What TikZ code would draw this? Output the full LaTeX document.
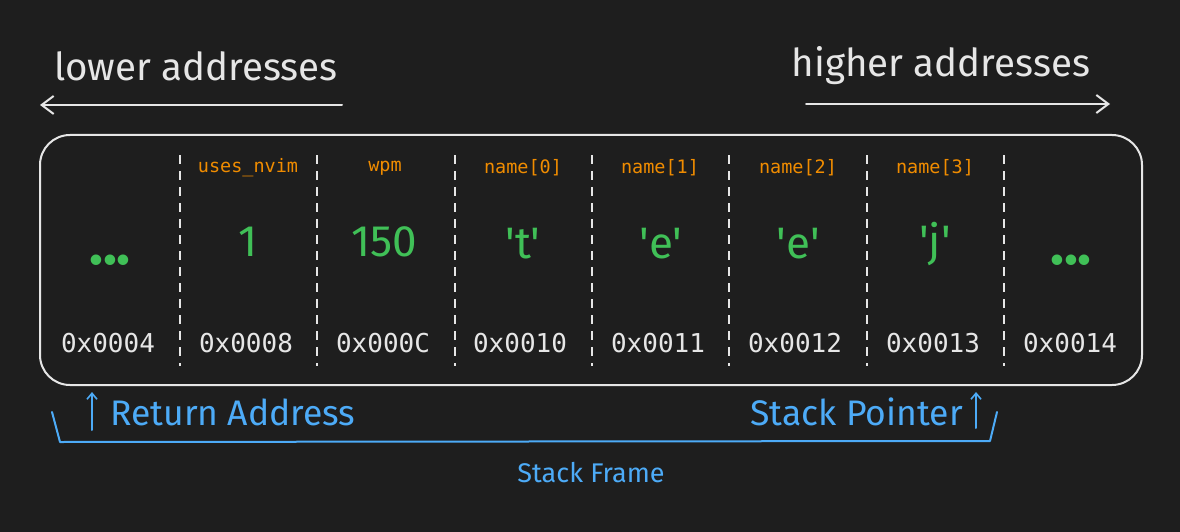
\documentclass[tikz,border=0pt]{standalone}
\usepackage{fontspec}
\setmainfont{Fira Sans}
\newfontfamily\monof{DejaVu Sans Mono}
\usetikzlibrary{arrows.meta}
\definecolor{bg}{HTML}{1E1E1E}
\definecolor{fg}{HTML}{E6E6E6}
\definecolor{orng}{HTML}{F08C00}
\definecolor{grn}{HTML}{40C057}
\definecolor{blu}{HTML}{4DABF7}
\tikzset{
  hand/.style={font=\fontsize{38.5}{40}\selectfont, text=fg, inner sep=0pt},
  varlbl/.style={font=\monof\fontsize{18.5}{20}\selectfont, text=orng, inner sep=0pt},
  val/.style={font=\fontsize{44}{46}\selectfont, text=grn, inner sep=0pt},
  dots/.style={font=\bfseries\fontsize{58}{60}\selectfont, text=grn, inner sep=0pt},
  addr/.style={font=\monof\fontsize{26}{28}\selectfont, text=fg, inner sep=0pt},
  bluetxt/.style={font=\fontsize{35.5}{37}\selectfont, text=blu, inner sep=0pt},
  sep/.style={draw=fg, line width=2pt, dash pattern=on 9pt off 7pt},
  wline/.style={draw=fg, line width=2pt, line cap=round},
  bline/.style={draw=blu, line width=2pt, line cap=round, line join=round}
}
\begin{document}
\begin{tikzpicture}[x=1pt,y=-1pt]
\fill[bg] (0,0) rectangle (1180,532);
\useasboundingbox (0,0) rectangle (1180,532);
% header
\node[hand] (low) at (196,66) {lower addresses};
\node[hand] (high) at (941,66) {higher addresses};
\coordinate (la1) at (342,105);
\coordinate (la2) at (40,105);
\coordinate (ha1) at (806,104);
\coordinate (ha2) at (1110,104);
\draw[wline, -{Straight Barb[length=12pt,width=18pt,line width=2pt]}] (la1) -- (la2);
\draw[wline, -{Straight Barb[length=12pt,width=18pt,line width=2pt]}] (ha1) -- (ha2);
% frame box
\draw[fg, line width=2pt, rounded corners=30pt] (40,135) rectangle (1142,385);
% separators
\foreach \x/\n in {180/s1,317/s2,455/s3,592/s4,729/s5,867/s6,1004/s7}{
  \coordinate (\n t) at (\x,155);
  \coordinate (\n b) at (\x,366);
  \draw[sep] (\n t) -- (\n b);
}
% labels
\node[varlbl] (l2) at (248,168) {uses\_nvim};
\node[varlbl] (l3) at (385,168) {wpm};
\node[varlbl] (l4) at (523,168) {name[0]};
\node[varlbl] (l5) at (660,168) {name[1]};
\node[varlbl] (l6) at (798,168) {name[2]};
\node[varlbl] (l7) at (935,168) {name[3]};
% values
\node[dots] (v1) at (110,260) {...};
\node[val] (v2) at (248,242) {1};
\node[val] (v3) at (384,242) {150};
\node[val] (v4) at (523,244) {\textquotesingle t\textquotesingle};
\node[val] (v5) at (661,244) {\textquotesingle e\textquotesingle};
\node[val] (v6) at (798,244) {\textquotesingle e\textquotesingle};
\node[val] (v7) at (935,244) {\textquotesingle j\textquotesingle};
\node[dots] (v8) at (1071,260) {...};
% addresses
\node[addr] (a1) at (108,343) {0x0004};
\node[addr] (a2) at (246,343) {0x0008};
\node[addr] (a3) at (383,343) {0x000C};
\node[addr] (a4) at (520,343) {0x0010};
\node[addr] (a5) at (658,343) {0x0011};
\node[addr] (a6) at (795,343) {0x0012};
\node[addr] (a7) at (933,343) {0x0013};
\node[addr] (a8) at (1070,343) {0x0014};
% bottom
\node[bluetxt, anchor=west] (ret) at (110,412) {Return Address};
\node[bluetxt, anchor=east] (sp) at (963,412) {Stack Pointer};
\node[bluetxt, font=\fontsize{27}{29}\selectfont] (sf) at (591,473) {Stack Frame};
\coordinate (r1) at (92,430);
\coordinate (r2) at (92,392);
\coordinate (p1) at (976,428);
\coordinate (p2) at (976,392);
\draw[bline, -{Straight Barb[length=6pt,width=10pt,line width=1.6pt]}] (r1) -- (r2);
\draw[bline, -{Straight Barb[length=6pt,width=10pt,line width=1.6pt]}] (p1) -- (p2);
\coordinate (b1) at (52,412);
\coordinate (b2) at (60,442);
\coordinate (b3) at (990,441);
\coordinate (b4) at (997,412);
\draw[bline] (b1) -- (b2) -- (b3) -- (b4);
\end{tikzpicture}
\end{document}
